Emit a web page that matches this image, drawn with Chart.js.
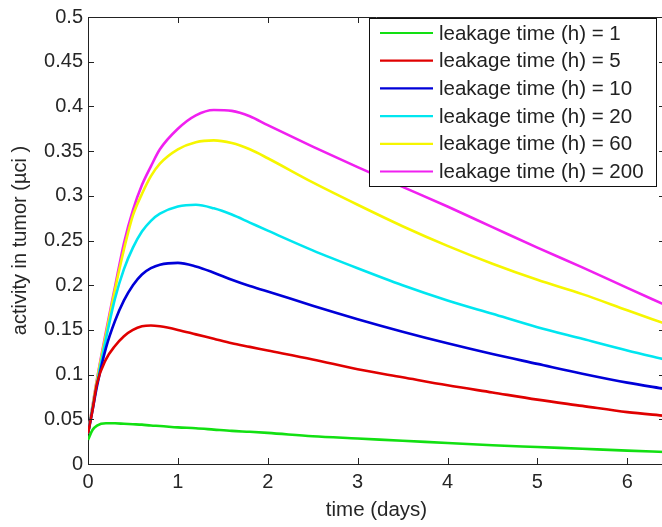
<!DOCTYPE html>
<html>
<head>
<meta charset="utf-8">
<script src="https://cdn.jsdelivr.net/npm/chart.js@4.4.1/dist/chart.umd.min.js"></script>
<style>
  html, body { margin: 0; padding: 0; background: #fff; overflow: hidden; }
  #wrap { width: 662px; height: 527px; overflow: hidden; position: relative; }
  canvas { display: block; }
</style>
</head>
<body>
<div id="wrap"><canvas id="c" width="668" height="527"></canvas></div>
<script>
// ---- data ----
const times = [0, 0.05, 0.1, 0.2, 0.3, 0.4, 0.5, 0.6, 0.7, 0.8, 1.0, 1.2, 1.4, 1.6, 1.8, 2.0, 2.5, 3.0, 3.5, 4.0, 4.5, 5.0, 5.5, 6.0, 6.42];

const leak1   = [0.027, 0.038, 0.043, 0.0455, 0.0455, 0.045, 0.0445, 0.044, 0.043, 0.0425, 0.041, 0.040, 0.0385, 0.037, 0.036, 0.0348, 0.031, 0.0285, 0.026, 0.0235, 0.021, 0.019, 0.017, 0.015, 0.0135];
const leak5   = [0.034, 0.060, 0.090, 0.117, 0.132, 0.143, 0.150, 0.154, 0.155, 0.154, 0.150, 0.145, 0.140, 0.135, 0.131, 0.127, 0.117, 0.106, 0.097, 0.088, 0.080, 0.072, 0.065, 0.058, 0.054];
const leak10  = [0.034, 0.060, 0.087, 0.130, 0.160, 0.183, 0.200, 0.212, 0.219, 0.223, 0.225, 0.221, 0.214, 0.206, 0.199, 0.193, 0.177, 0.162, 0.148, 0.135, 0.123, 0.112, 0.101, 0.091, 0.084];
const leak20  = [0.034, 0.062, 0.090, 0.140, 0.185, 0.218, 0.242, 0.260, 0.272, 0.280, 0.288, 0.290, 0.286, 0.279, 0.270, 0.261, 0.239, 0.219, 0.200, 0.183, 0.168, 0.153, 0.140, 0.127, 0.117];
const leak60  = [0.034, 0.064, 0.094, 0.145, 0.195, 0.240, 0.278, 0.302, 0.322, 0.336, 0.352, 0.360, 0.362, 0.359, 0.352, 0.342, 0.315, 0.290, 0.266, 0.244, 0.224, 0.206, 0.190, 0.172, 0.157];
const leak200 = [0.034, 0.065, 0.095, 0.148, 0.198, 0.247, 0.284, 0.312, 0.333, 0.352, 0.375, 0.390, 0.396, 0.395, 0.389, 0.379, 0.355, 0.332, 0.310, 0.288, 0.265, 0.242, 0.220, 0.197, 0.178];

const seriesNames = ['leakage time (h) = 1', 'leakage time (h) = 5', 'leakage time (h) = 10', 'leakage time (h) = 20', 'leakage time (h) = 60', 'leakage time (h) = 200'];
const seriesValues = [leak1, leak5, leak10, leak20, leak60, leak200];
const seriesColors = ['#12e012', '#e00000', '#0000d8', '#00e6f0', '#f6f600', '#f020f0'];

const xTickValues = [0, 1, 2, 3, 4, 5, 6];
const yTickValues = [0, 0.05, 0.1, 0.15, 0.2, 0.25, 0.3, 0.35, 0.4, 0.45, 0.5];
const yTickLabels = ['0', '0.05', '0.1', '0.15', '0.2', '0.25', '0.3', '0.35', '0.4', '0.45', '0.5'];

const xTitle = 'time (days)';
const yTitle = 'activity in tumor (\u00b5ci )';

const FONT = '"Liberation Sans", Arial, sans-serif';

const datasets = seriesValues.map((vals, i) => ({
  label: seriesNames[i],
  data: times.map((t, k) => ({ x: t, y: vals[k] })),
  borderColor: seriesColors[i],
  backgroundColor: seriesColors[i],
  borderWidth: 2.6,
  pointRadius: 0,
  cubicInterpolationMode: 'monotone',
  fill: false
}));

const framePlugin = {
  id: 'frame',
  afterDatasetsDraw(chart) {
    const { ctx, chartArea: a, scales } = chart;
    const xs = scales.x, ys = scales.y;
    ctx.save();
    ctx.strokeStyle = '#222';
    ctx.lineWidth = 1;
    ctx.beginPath();
    ctx.moveTo(a.left, Math.round(a.top) + 0.5);
    ctx.lineTo(a.right, Math.round(a.top) + 0.5);
    ctx.moveTo(Math.round(a.right) - 0.5, a.top);
    ctx.lineTo(Math.round(a.right) - 0.5, a.bottom);
    ctx.stroke();
    const L = 6;
    ctx.beginPath();
    xTickValues.forEach(v => {
      const px = Math.round(xs.getPixelForValue(v)) + 0.5;
      ctx.moveTo(px, a.bottom); ctx.lineTo(px, a.bottom - L);
      ctx.moveTo(px, a.top); ctx.lineTo(px, a.top + L);
    });
    yTickValues.forEach(v => {
      const py = Math.round(ys.getPixelForValue(v)) + 0.5;
      ctx.moveTo(a.left, py); ctx.lineTo(a.left + L, py);
      ctx.moveTo(a.right, py); ctx.lineTo(a.right - L, py);
    });
    ctx.stroke();

    const bx = 369.5, by = 18.5, bw = 287, bh = 168;
    ctx.fillStyle = '#fff';
    ctx.fillRect(bx, by, bw, bh);
    ctx.strokeStyle = '#111';
    ctx.strokeRect(bx, by, bw, bh);
    ctx.font = '20.5px ' + FONT;
    ctx.textBaseline = 'middle';
    ctx.textAlign = 'left';
    seriesNames.forEach((name, i) => {
      const cy = 33 + i * 27.7;
      ctx.strokeStyle = seriesColors[i];
      ctx.lineWidth = 2.2;
      ctx.beginPath();
      ctx.moveTo(380, cy); ctx.lineTo(433, cy);
      ctx.stroke();
      ctx.fillStyle = '#222';
      ctx.fillText(name, 439, cy + 1);
    });
    ctx.restore();
  }
};

new Chart(document.getElementById('c'), {
  type: 'line',
  data: { datasets },
  options: {
    responsive: false,
    animation: false,
    events: [],
    layout: { padding: { top: 9, right: 3, left: 0, bottom: 0 } },
    plugins: { legend: { display: false }, tooltip: { enabled: false } },
    scales: {
      x: {
        type: 'linear',
        min: 0, max: 6.42,
        afterBuildTicks: s => { s.ticks = xTickValues.map(v => ({ value: v })); },
        afterFit: s => { s.height = 63; },
        grid: { display: false, drawTicks: false },
        border: { display: true, color: '#222', width: 1 },
        ticks: { color: '#262626', font: { family: FONT, size: 20 }, padding: 6, maxRotation: 0, autoSkip: false, callback: v => String(v) },
        title: { display: true, text: xTitle, color: '#262626', font: { family: FONT, size: 20.5 }, padding: { top: 0, bottom: 4 } }
      },
      y: {
        type: 'linear',
        min: 0, max: 0.5,
        afterBuildTicks: s => { s.ticks = yTickValues.map(v => ({ value: v })); },
        afterFit: s => { s.width = 88; },
        grid: { display: false, drawTicks: false },
        border: { display: true, color: '#222', width: 1 },
        ticks: { color: '#262626', font: { family: FONT, size: 20 }, padding: 5, autoSkip: false,
          callback: v => { const k = yTickValues.findIndex(t => Math.abs(t - v) < 1e-9); return k >= 0 ? yTickLabels[k] : ''; } },
        title: { display: true, text: yTitle, color: '#262626', font: { family: FONT, size: 20 }, padding: { top: 8, bottom: 0 } }
      }
    }
  },
  plugins: [framePlugin]
});
</script>
</body>
</html>
